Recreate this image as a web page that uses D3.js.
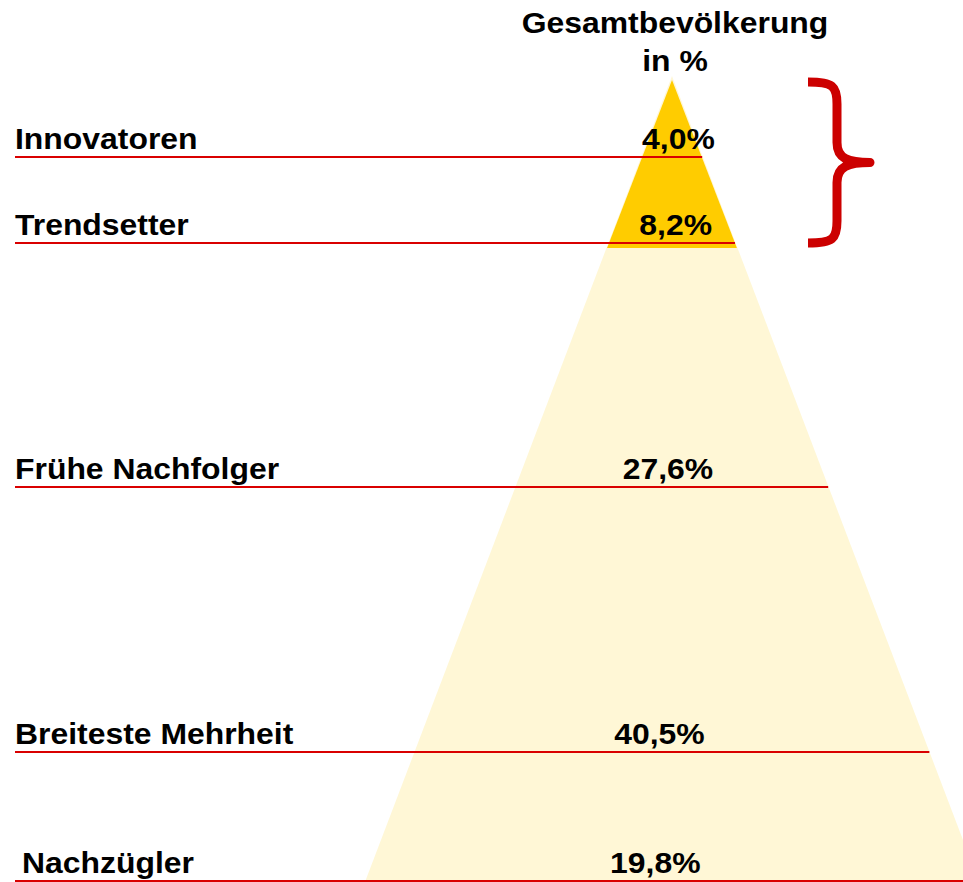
<!DOCTYPE html>
<html>
<head>
<meta charset="utf-8">
<script src="https://cdn.jsdelivr.net/npm/d3@7"></script>
<style>
  body { margin: 0; background: #fff; }
  svg { display: block; font-family: "Liberation Sans", Arial, sans-serif; font-weight: bold; }
</style>
</head>
<body>
<svg id="chart" width="963" height="882"></svg>
<script>
// DATA
const groups = ["Innovatoren", "Trendsetter", "Frühe Nachfolger", "Breiteste Mehrheit", "Nachzügler"];
const shares = [4.0, 8.2, 27.6, 40.5, 19.8];
const bracketed = [true, true, false, false, false]; // top segment, dark yellow + brace
const titleLines = ["Gesamtbevölkerung", "in %"];

// SETUP
const width = 963, height = 882;
const svg = d3.select("#chart");
const stretch = 1.1;       // the original text is drawn a little wide
const fontSize = 29;

const de = d3.formatLocale({ decimal: ",", thousands: ".", grouping: [3], currency: ["", "€"] });
const fmt = de.format(".1f");

// cumulative share -> row on the page (rows are not proportional in the original)
const cum = [0, ...d3.cumsum(shares)];
const y = d3.scaleLinear()
    .domain(cum)
    .range([78, 157, 243, 487, 752, 881]);

// pyramid: half width grows with y
const cx = 672;
const halfW = d3.scaleLinear()
    .domain([y(0), height])
    .range([0, 307]);

// light pyramid (whole)
const yBase = height + 20;
svg.append("path")
    .attr("d", d3.line()([[cx, y(0) - 2], [cx + halfW(yBase), yBase], [cx - halfW(yBase), yBase]]) + "Z")
    .attr("fill", "#FFF7D6");

// dark top (bracketed groups)
const nTop = d3.sum(bracketed, d => d ? 1 : 0);
const yTop = y(cum[nTop]) + 5;
svg.append("path")
    .attr("d", d3.line()([[cx, y(0) + 2], [cx + halfW(yTop), yTop], [cx - halfW(yTop), yTop]]) + "Z")
    .attr("fill", "#FFCC00");

// red lines under each group
const rows = groups.map((g, i) => ({ group: g, share: shares[i], yl: y(cum[i + 1]) }));

svg.selectAll(".rule")
    .data(rows)
    .enter()
    .append("line")
    .attr("class", "rule")
    .attr("x1", 15)
    .attr("x2", d => Math.min(width, cx + halfW(d.yl)))
    .attr("y1", d => d.yl)
    .attr("y2", d => d.yl)
    .attr("stroke", "#D90000")
    .attr("stroke-width", 2);

function widen(sel) {
    sel.each(function () {
        const len = this.getComputedTextLength();
        d3.select(this).attr("textLength", len * stretch).attr("lengthAdjust", "spacingAndGlyphs");
    });
}

// group names
svg.selectAll(".name")
    .data(rows)
    .enter()
    .append("text")
    .attr("class", "name")
    .attr("x", (d, i) => i === groups.length - 1 ? 22 : 15)
    .attr("y", d => d.yl - 8)
    .attr("font-size", fontSize)
    .attr("fill", "#000")
    .text(d => d.group)
    .call(widen);

// shares (the value column leans slightly left going down, as in the original)
svg.selectAll(".share")
    .data(rows)
    .enter()
    .append("text")
    .attr("class", "share")
    .attr("x", d => cx + 9 - 0.032 * (d.yl - y(0)))
    .attr("y", d => d.yl - 8)
    .attr("text-anchor", "middle")
    .attr("font-size", fontSize)
    .attr("fill", "#000")
    .text(d => fmt(d.share) + "%")
    .call(widen);

// title
svg.selectAll(".title")
    .data(titleLines)
    .enter()
    .append("text")
    .attr("class", "title")
    .attr("x", cx + 3)
    .attr("y", (d, i) => 33 + i * 38)
    .attr("text-anchor", "middle")
    .attr("font-size", fontSize)
    .attr("fill", "#000")
    .text(d => d)
    .call(widen);

// brace around the bracketed groups
const bTop = y(0) + 4, bBot = y(cum[nTop]), bMid = (bTop + bBot) / 2;
const x0 = 808, x1 = 837, tip = 870;
const p = d3.path();
p.moveTo(x0, bTop);
p.bezierCurveTo(x1 - 4, bTop, x1, bTop + 4, x1, bTop + 22);
p.lineTo(x1, bMid - 20);
p.bezierCurveTo(x1, bMid - 4, tip - 22, bMid, tip, bMid);
p.bezierCurveTo(tip - 22, bMid, x1, bMid + 4, x1, bMid + 20);
p.lineTo(x1, bBot - 22);
p.bezierCurveTo(x1, bBot - 4, x1 - 4, bBot, x0, bBot);
svg.append("path")
    .attr("d", p.toString())
    .attr("fill", "none")
    .attr("stroke", "#CC0000")
    .attr("stroke-width", 9)
    .attr("stroke-linejoin", "round");
</script>
</body>
</html>
